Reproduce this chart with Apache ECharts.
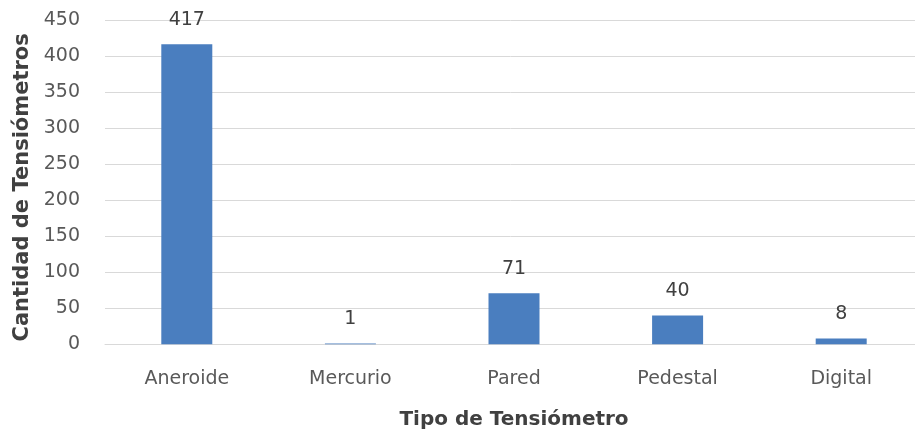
<!DOCTYPE html>
<html>
<head>
<meta charset="utf-8">
<script src="https://cdn.jsdelivr.net/npm/echarts@6/dist/echarts.min.js"></script>
<style>
  html, body { margin: 0; padding: 0; background: #ffffff; overflow: hidden; }
  #chart { width: 915px; height: 430px; }
</style>
</head>
<body>
<div id="chart"></div>
<script>
// Tensiometer types and counts
const categories = ['Aneroide', 'Mercurio', 'Pared', 'Pedestal', 'Digital'];
const counts = [417, 1, 71, 40, 8];
const yTicks = [0, 50, 100, 150, 200, 250, 300, 350, 400, 450];

const FONT = 'DejaVu Sans';
const chart = echarts.init(document.getElementById('chart'), null, { renderer: 'canvas' });

chart.setOption({
  backgroundColor: '#ffffff',
  animation: false,
  grid: {
    left: 105, top: 20.5, width: 818, bottom: 85.7,
    containLabel: false,
    outerBoundsMode: 'none'
  },
  xAxis: {
    type: 'category',
    data: categories,
    name: 'Tipo de Tensiómetro',
    nameLocation: 'middle',
    nameGap: 65,
    nameTextStyle: { fontFamily: FONT, fontWeight: 'bold', fontSize: 20, color: '#404040' },
    axisLine: { show: true, lineStyle: { color: '#d9d9d9', width: 1 } },
    axisTick: { show: false },
    axisLabel: { fontFamily: FONT, fontSize: 19, color: '#595959', margin: 25 }
  },
  yAxis: {
    type: 'value',
    min: yTicks[0],
    max: yTicks[yTicks.length - 1],
    interval: 50,
    name: 'Cantidad de Tensiómetros',
    nameLocation: 'middle',
    nameGap: 71,
    nameRotate: 90,
    nameTextStyle: { fontFamily: FONT, fontWeight: 'bold', fontSize: 21, color: '#404040', padding: [0, 10, 0, 0] },
    axisLine: { show: false },
    axisTick: { show: false },
    axisLabel: { fontFamily: FONT, fontSize: 19, color: '#595959', margin: 25 },
    splitLine: { show: true, lineStyle: { color: '#d9d9d9', width: 1 } }
  },
  series: [{
    type: 'bar',
    data: counts,
    barWidth: 51,
    itemStyle: { color: '#4a7ebf' },
    label: {
      show: true,
      position: 'top',
      distance: 15,
      fontFamily: FONT,
      fontSize: 19,
      color: '#404040'
    }
  }]
});
</script>
</body>
</html>
